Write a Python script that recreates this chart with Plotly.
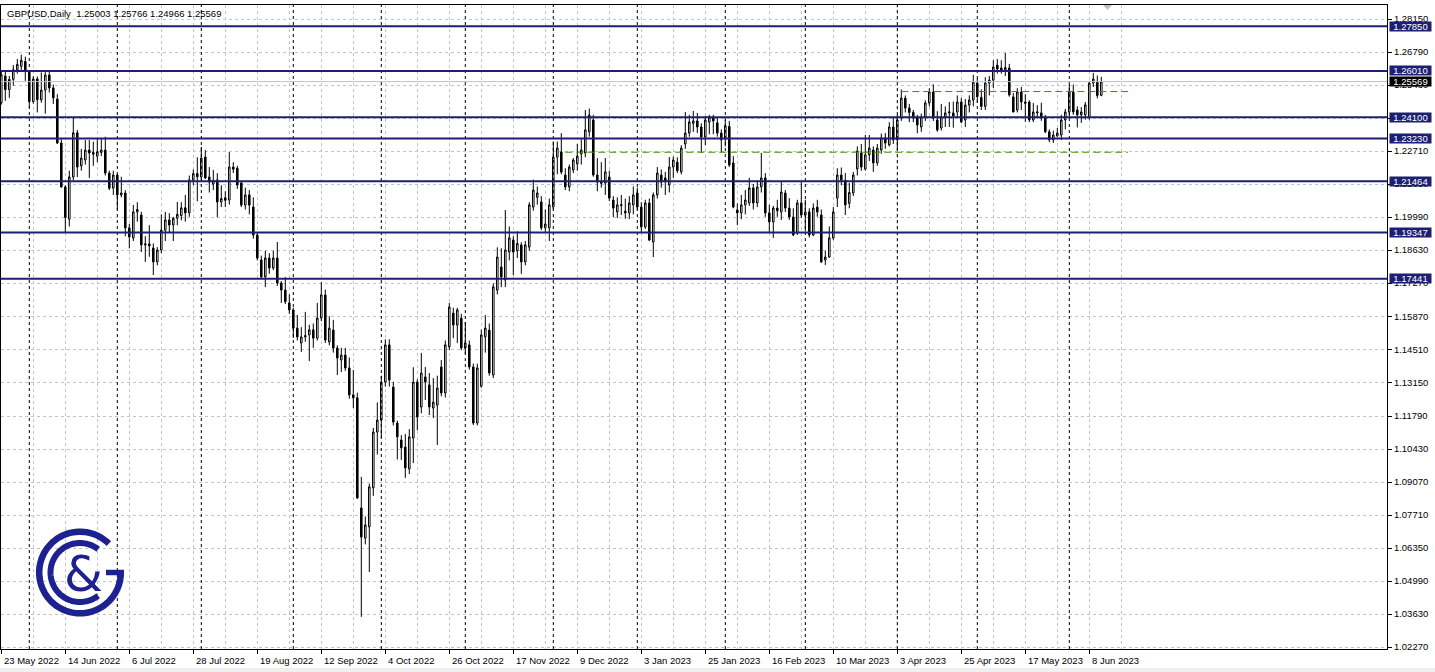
import math
import pandas as pd
import plotly.graph_objects as go

# ---------------- data ----------------
symbol_title = "GBPUSD,Daily"

open_ = [
1.2470,1.2580,1.2524,1.2566,1.2606,1.2620,1.2640,1.2598,1.2475,1.2568,
1.2482,1.2522,1.2584,1.2531,1.2485,1.2304,1.2123,1.1990,1.2164,1.2346,
1.2210,1.2234,1.2275,1.2265,1.2250,1.2265,1.2275,1.2180,1.2118,1.2172,
1.2090,1.2098,1.1954,1.1913,1.2020,1.2007,1.1884,1.1888,1.1871,1.1814,
1.1863,1.1945,1.1987,1.1966,1.1994,1.2005,1.2037,1.2016,1.2152,1.2178,
1.2164,1.2246,1.2164,1.2135,1.2152,1.2061,1.2078,1.2069,1.2205,1.2200,
1.2139,1.2048,1.2090,1.2040,1.1925,1.1822,1.1752,1.1830,1.1789,1.1830,
1.1727,1.1698,1.1645,1.1616,1.1541,1.1480,1.1505,1.1513,1.1534,1.1500,
1.1583,1.1678,1.1484,1.1533,1.1459,1.1410,1.1430,1.1377,1.1266,1.1254,
1.0800,1.0676,1.0722,1.0883,1.1113,1.1162,1.1319,1.1472,1.1298,1.1150,
1.1080,1.1051,1.0961,1.1088,1.1319,1.1216,1.1340,1.1307,1.1212,1.1224,
1.1381,1.1274,1.1464,1.1603,1.1554,1.1582,1.1459,1.1472,1.1381,1.1150,
1.1302,1.1505,1.1533,1.1348,1.1698,1.1793,1.1740,1.1855,1.1904,1.1860,
1.1884,1.1814,1.1875,1.2040,1.2080,1.2061,1.1955,1.1954,1.2040,1.2246,
1.2267,1.2172,1.2123,1.2193,1.2218,1.2259,1.2263,1.2350,1.2399,1.2172,
1.2143,1.2139,1.2164,1.2069,1.2020,1.2046,1.2023,1.2016,1.2049,1.2098,
1.2040,1.1958,1.2057,1.1896,1.2090,1.2172,1.2160,1.2131,1.2205,1.2225,
1.2185,1.2300,1.2345,1.2385,1.2395,1.2370,1.2329,1.2390,1.2410,1.2387,
1.2345,1.2320,1.2372,1.2222,1.2028,1.2016,1.2049,1.2057,1.2119,1.2057,
1.2123,1.2160,1.2016,1.1979,1.2036,1.2020,1.2098,1.2036,1.1999,1.1933,
1.2057,1.2007,1.2020,1.1925,1.2040,1.2007,1.1822,1.1834,1.1913,1.2077,
1.2172,1.2150,1.2055,1.2098,1.2197,1.2263,1.2197,1.2255,1.2275,1.2222,
1.2275,1.2325,1.2296,1.2370,1.2317,1.2407,1.2489,1.2448,1.2430,1.2407,
1.2370,1.2411,1.2469,1.2514,1.2399,1.2366,1.2411,1.2428,1.2428,1.2432,
1.2473,1.2399,1.2460,1.2481,1.2551,1.2492,1.2455,1.2551,1.2563,1.2625,
1.2613,1.2605,1.2613,1.2494,1.2440,1.2514,1.2473,1.2473,1.2399,1.2428,
1.2428,1.2407,1.2350,1.2317,1.2333,1.2337,1.2399,1.2432,1.2514,1.2440,
1.2420,1.2420,1.2411,1.2551,1.2555,1.25003]

high_ = [
1.2599,1.2598,1.2580,1.2625,1.2650,1.2668,1.2660,1.2600,1.2580,1.2578,
1.2595,1.2596,1.2600,1.2545,1.2505,1.2320,1.2130,1.2190,1.2407,1.2358,
1.2280,1.2316,1.2316,1.2310,1.2320,1.2325,1.2330,1.2190,1.2190,1.2175,
1.2165,1.2110,1.1970,1.2049,1.2060,1.2020,1.1920,1.1965,1.1890,1.1875,
1.2010,1.2020,1.2015,1.2000,1.2061,1.2060,1.2090,1.2170,1.2195,1.2245,
1.2288,1.2275,1.2205,1.2193,1.2180,1.2130,1.2105,1.2267,1.2225,1.2210,
1.2145,1.2120,1.2110,1.2080,1.1935,1.1840,1.1860,1.1850,1.1860,1.1896,
1.1735,1.1752,1.1680,1.1625,1.1595,1.1545,1.1608,1.1555,1.1560,1.1645,
1.1731,1.1700,1.1590,1.1575,1.1470,1.1460,1.1460,1.1420,1.1369,1.1275,
1.0928,1.0765,1.0900,1.1130,1.1235,1.1345,1.1495,1.1495,1.1320,1.1160,
1.1100,1.1105,1.1125,1.1380,1.1330,1.1439,1.1381,1.1356,1.1335,1.1345,
1.1410,1.1490,1.1645,1.1625,1.1625,1.1600,1.1566,1.1490,1.1395,1.1395,
1.1535,1.1595,1.1560,1.1725,1.1874,1.1870,1.2028,1.1960,1.1920,1.1940,
1.1895,1.1900,1.2060,1.2153,1.2125,1.2085,1.2030,1.2075,1.2310,1.2310,
1.2345,1.2200,1.2215,1.2242,1.2300,1.2320,1.2440,1.2446,1.2420,1.2242,
1.2225,1.2242,1.2190,1.2085,1.2080,1.2090,1.2075,1.2085,1.2125,1.2120,
1.2060,1.2070,1.2075,1.2100,1.2205,1.2195,1.2185,1.2246,1.2248,1.2245,
1.2295,1.2432,1.2420,1.2436,1.2428,1.2385,1.2415,1.2420,1.2420,1.2410,
1.2360,1.2400,1.2395,1.2250,1.2055,1.2090,1.2110,1.2160,1.2135,1.2150,
1.2263,1.2180,1.2050,1.2045,1.2070,1.2143,1.2110,1.2077,1.2035,1.2070,
1.2143,1.2070,1.2035,1.2055,1.2070,1.2030,1.1860,1.1960,1.2040,1.2200,
1.2203,1.2180,1.2140,1.2185,1.2290,1.2300,1.2337,1.2337,1.2290,1.2300,
1.2343,1.2345,1.2390,1.2410,1.2420,1.2525,1.2500,1.2465,1.2440,1.2420,
1.2425,1.2480,1.2530,1.2546,1.2435,1.2465,1.2455,1.2473,1.2475,1.2500,
1.2490,1.2485,1.2500,1.2585,1.2570,1.2525,1.2575,1.2580,1.2645,1.2650,
1.2645,1.2675,1.2630,1.2510,1.2530,1.2535,1.2505,1.2480,1.2469,1.2460,
1.2470,1.2420,1.2360,1.2355,1.2366,1.2420,1.2445,1.2544,1.2545,1.2455,
1.2452,1.2473,1.2560,1.2593,1.2582,1.25766]

low_ = [
1.2462,1.2478,1.2490,1.2540,1.2590,1.2600,1.2560,1.2450,1.2466,1.2430,
1.2470,1.2425,1.2512,1.2465,1.2300,1.2120,1.1934,1.1960,1.2150,1.2164,
1.2190,1.2215,1.2160,1.2210,1.2225,1.2250,1.2170,1.2110,1.2090,1.2030,
1.2080,1.1920,1.1870,1.1900,1.1980,1.1855,1.1814,1.1835,1.1760,1.1800,
1.1850,1.1900,1.1935,1.1900,1.1965,1.1985,1.1980,1.2000,1.2130,1.2064,
1.2150,1.2155,1.2100,1.2110,1.1998,1.2040,1.2040,1.2050,1.2180,1.2115,
1.2040,1.2030,1.2010,1.1910,1.1820,1.1745,1.1710,1.1765,1.1780,1.1715,
1.1645,1.1640,1.1600,1.1500,1.1490,1.1443,1.1485,1.1405,1.1460,1.1490,
1.1570,1.1480,1.1470,1.1440,1.1348,1.1360,1.1365,1.1250,1.1212,1.0838,
1.0351,1.0650,1.0536,1.0850,1.1020,1.1090,1.1300,1.1300,1.1140,1.1000,
1.0998,1.0924,1.0940,1.0985,1.1120,1.1190,1.1245,1.1183,1.1171,1.1059,
1.1260,1.1255,1.1450,1.1500,1.1480,1.1450,1.1435,1.1370,1.1142,1.1140,
1.1295,1.1440,1.1345,1.1335,1.1680,1.1710,1.1710,1.1820,1.1760,1.1830,
1.1765,1.1800,1.1860,1.2025,1.2050,1.1945,1.1935,1.1900,1.2030,1.2175,
1.2175,1.2110,1.2105,1.2180,1.2190,1.2215,1.2245,1.2330,1.2165,1.2105,
1.2120,1.2090,1.2065,1.1999,1.1995,1.2007,1.1992,1.1990,1.2010,1.2030,
1.1935,1.1950,1.1900,1.1834,1.2075,1.2120,1.2090,1.2100,1.2160,1.2180,
1.2175,1.2280,1.2330,1.2350,1.2345,1.2263,1.2295,1.2340,1.2340,1.2330,
1.2265,1.2290,1.2205,1.2035,1.1965,1.1990,1.2010,1.2045,1.2030,1.2040,
1.2100,1.2000,1.1937,1.1913,1.2000,1.1987,1.2020,1.1987,1.1920,1.1925,
1.1995,1.1940,1.1915,1.1920,1.2000,1.1810,1.1801,1.1830,1.1905,1.2040,
1.2130,1.2007,1.2035,1.2085,1.2170,1.2190,1.2190,1.2230,1.2185,1.2210,
1.2260,1.2280,1.2290,1.2300,1.2275,1.2395,1.2430,1.2390,1.2390,1.2344,
1.2350,1.2395,1.2455,1.2395,1.2350,1.2355,1.2370,1.2370,1.2367,1.2410,
1.2385,1.2370,1.2430,1.2455,1.2470,1.2440,1.2440,1.2500,1.2530,1.2590,
1.2590,1.2580,1.2495,1.2430,1.2430,1.2440,1.2391,1.2390,1.2390,1.2405,
1.2395,1.2345,1.2308,1.2304,1.2330,1.2317,1.2360,1.2405,1.2420,1.2368,
1.2387,1.2400,1.2400,1.2535,1.2488,1.24966]

close_ = [
1.2585,1.2524,1.2566,1.2606,1.2628,1.2645,1.2598,1.2475,1.2568,1.2482,
1.2522,1.2584,1.2531,1.2490,1.2304,1.2123,1.1997,1.2164,1.2346,1.2205,
1.2242,1.2275,1.2263,1.2258,1.2268,1.2275,1.2180,1.2118,1.2172,1.2090,
1.2098,1.1954,1.1917,1.2020,1.2030,1.1884,1.1888,1.1880,1.1814,1.1863,
1.1945,1.1987,1.1966,1.1994,1.2010,1.2037,1.2016,1.2152,1.2178,1.2165,
1.2242,1.2160,1.2143,1.2150,1.2061,1.2075,1.2068,1.2205,1.2196,1.2131,
1.2048,1.2090,1.2048,1.1925,1.1830,1.1752,1.1830,1.1789,1.1830,1.1727,
1.1698,1.1650,1.1616,1.1541,1.1505,1.1505,1.1510,1.1534,1.1500,1.1583,
1.1678,1.1492,1.1541,1.1459,1.1418,1.1430,1.1377,1.1266,1.1254,1.0841,
1.0680,1.0730,1.0887,1.1113,1.1162,1.1319,1.1472,1.1327,1.1154,1.1093,
1.1048,1.0965,1.1093,1.1319,1.1175,1.1356,1.1319,1.1216,1.1236,1.1294,
1.1274,1.1472,1.1628,1.1554,1.1616,1.1459,1.1480,1.1381,1.1150,1.1377,
1.1513,1.1541,1.1356,1.1711,1.1834,1.1752,1.1863,1.1913,1.1855,1.1890,
1.1814,1.1884,1.2049,1.2110,1.2098,1.1954,1.1970,1.2049,1.2246,1.2283,
1.2184,1.2123,1.2205,1.2234,1.2250,1.2275,1.2358,1.2419,1.2172,1.2143,
1.2138,1.2185,1.2077,1.2036,1.2049,1.2050,1.2016,1.2057,1.2090,1.2040,
1.1958,1.2057,1.1904,1.2090,1.2180,1.2143,1.2145,1.2205,1.2234,1.2190,
1.2283,1.2345,1.2391,1.2395,1.2370,1.2329,1.2399,1.2410,1.2395,1.2345,
1.2317,1.2375,1.2213,1.2040,1.2016,1.2049,1.2069,1.2119,1.2057,1.2123,
1.2160,1.2016,1.1979,1.2036,1.2025,1.2102,1.2036,1.1999,1.1925,1.2057,
1.2007,1.2020,1.1925,1.2036,1.2020,1.1814,1.1834,1.1913,1.2020,1.2172,
1.2150,1.2049,1.2100,1.2172,1.2271,1.2205,1.2255,1.2283,1.2222,1.2283,
1.2325,1.2304,1.2370,1.2317,1.2399,1.2489,1.2448,1.2430,1.2407,1.2378,
1.2411,1.2469,1.2514,1.2407,1.2358,1.2411,1.2428,1.2432,1.2415,1.2473,
1.2391,1.2460,1.2481,1.2555,1.2495,1.2455,1.2551,1.2563,1.2617,1.2609,
1.2605,1.2615,1.2502,1.2432,1.2514,1.2473,1.2468,1.2399,1.2432,1.2432,
1.2407,1.2350,1.2317,1.2337,1.2345,1.2399,1.2432,1.2514,1.2432,1.2420,
1.2432,1.2461,1.2551,1.2568,1.2500,1.25569]

# trading calendar (broker had no bar on 26 Dec 2022)
dates = [d for d in pd.bdate_range("2022-05-23", "2023-06-13") if d != pd.Timestamp("2022-12-26")]

# x-axis labels
x_label_text = ["23 May 2022", "14 Jun 2022", "6 Jul 2022", "28 Jul 2022", "19 Aug 2022",
                "12 Sep 2022", "4 Oct 2022", "26 Oct 2022", "17 Nov 2022", "9 Dec 2022",
                "3 Jan 2023", "25 Jan 2023", "16 Feb 2023", "10 Mar 2023", "3 Apr 2023",
                "25 Apr 2023", "17 May 2023", "8 Jun 2023"]

# y-axis labels
y_tick_vals = [1.28150, 1.26790, 1.25430, 1.24070, 1.22710, 1.21350, 1.19990, 1.18630, 1.17270,
               1.15870, 1.14510, 1.13150, 1.11790, 1.10430, 1.09070, 1.07710, 1.06350,
               1.04990, 1.03630, 1.02270]

# horizontal levels drawn on the chart
level_prices = [1.27850, 1.26010, 1.24100, 1.23230, 1.21464, 1.19347, 1.17441]
bid_price = 1.25569

# green dashed trend levels: (start date, price)
green_levels = [("2022-12-06", 1.2266), ("2023-04-04", 1.2516)]

# ---------------- figure ----------------
W, H = 1435, 672
ML, MR, MT, MB = 1, 48, 5, 23
PW, PH = W - ML - MR, H - MT - MB
NAVY = "#1c1f73"
LOGO = "#1e2190"
GRID = "#c4c4c4"
FONT = "Liberation Sans"

n = len(close_)
xs = list(range(n))
date_pos = {d.strftime("%Y-%m-%d"): i for i, d in enumerate(dates)}
label_pos = [date_pos[pd.Timestamp(t).strftime("%Y-%m-%d")] for t in x_label_text]
px_per_bar = 4.0
x0 = -0.075
x1 = x0 + PW / px_per_bar
y_lo, y_hi = 1.02188, 1.28727
green_end = x0 + (1128 - ML) / px_per_bar

fig = go.Figure(go.Candlestick(
    x=xs, open=open_, high=high_, low=low_, close=close_,
    increasing=dict(line=dict(color="black", width=1), fillcolor="white"),
    decreasing=dict(line=dict(color="black", width=1), fillcolor="black"),
    whiskerwidth=0, hoverinfo="skip", showlegend=False))

shapes = []
# month separators
for i in range(1, n):
    if dates[i].month != dates[i - 1].month:
        shapes.append(dict(type="line", xref="x", yref="paper", x0=i, x1=i, y0=0, y1=1,
                           line=dict(color="black", width=1, dash="3px,3px"), layer="above"))
# bid line
shapes.append(dict(type="line", xref="paper", yref="y", x0=0, x1=1, y0=bid_price, y1=bid_price,
                   line=dict(color="#c0c0c0", width=1), layer="above"))
# levels
for p in level_prices:
    shapes.append(dict(type="line", xref="paper", yref="y", x0=0, x1=1, y0=p, y1=p,
                       line=dict(color=NAVY, width=2), layer="above"))
# green dashed
for d, p in green_levels:
    shapes.append(dict(type="line", xref="x", yref="y", x0=date_pos[d], x1=green_end, y0=p, y1=p,
                       line=dict(color="#3c8c00", width=1, dash="7px,4px"), layer="above"))


def to_paper(px, py):
    return (px - ML) / PW, (MT + PH - py) / PH


def arc(cx, cy, r, a0, a1, steps=80):
    pts = []
    for k in range(steps + 1):
        a = math.radians(a0 + (a1 - a0) * k / steps)
        pts.append(to_paper(cx + r * math.cos(a), cy - r * math.sin(a)))
    return "M " + " L ".join(f"{x:.5f},{y:.5f}" for x, y in pts)


cx, cy = 80, 572.5
shapes.append(dict(type="path", xref="paper", yref="paper", path=arc(cx, cy, 40.8, 45, 360),
                   line=dict(color=LOGO, width=6.5), layer="above"))
shapes.append(dict(type="path", xref="paper", yref="paper", path=arc(cx, cy, 29.5, 52, 308),
                   line=dict(color=LOGO, width=6), layer="above"))
bx0, by0 = to_paper(cx + 26, cy)
bx1, by1 = to_paper(cx + 44, cy)
shapes.append(dict(type="line", xref="paper", yref="paper", x0=bx0, x1=bx1, y0=by0, y1=by1,
                   line=dict(color=LOGO, width=5.5), layer="above"))
# chart-shift marker
t1 = to_paper(1103, 5); t2 = to_paper(1112, 5); t3 = to_paper(1107.5, 10)
shapes.append(dict(type="path", xref="paper", yref="paper",
                   path=f"M {t1[0]},{t1[1]} L {t2[0]},{t2[1]} L {t3[0]},{t3[1]} Z",
                   fillcolor="#c0c0c0", line=dict(width=0), layer="above"))
# bottom gray strip
s0 = to_paper(0, 668); s1 = to_paper(W, H)
shapes.append(dict(type="rect", xref="paper", yref="paper", x0=-0.01, x1=1.05, y0=s1[1], y1=s0[1],
                   fillcolor="#f0f0f0", line=dict(width=0), layer="above"))

ann = []
for t, pos in zip(x_label_text, label_pos):
    ann.append(dict(x=pos, xref="x", y=0, yref="paper", text=t, showarrow=False,
                    xanchor="left", yanchor="middle", xshift=1, yshift=-11,
                    font=dict(family=FONT, size=9.5, color="black")))
for p in level_prices:
    ann.append(dict(x=1, xref="paper", y=p, yref="y", text=f"{p:.5f}", showarrow=False,
                    xanchor="left", yanchor="middle", xshift=2, bgcolor=NAVY, borderpad=0,
                    width=41, height=9, font=dict(family=FONT, size=9.5, color="white")))
ann.append(dict(x=1, xref="paper", y=bid_price, yref="y", text=f"{bid_price:.5f}", showarrow=False,
                xanchor="left", yanchor="middle", xshift=2, bgcolor="black", borderpad=0,
                width=41, height=9, font=dict(family=FONT, size=9.5, color="white")))
header = f"{symbol_title}\u00a0\u00a0{open_[-1]:.5f} {high_[-1]:.5f} {low_[-1]:.5f} {close_[-1]:.5f}"
ann.append(dict(x=0, xref="paper", y=1, yref="paper", text=header, showarrow=False,
                xanchor="left", yanchor="middle", xshift=4, yshift=-8,
                font=dict(family=FONT, size=9.5, color="black")))
lx, ly = to_paper(cx + 3, cy + 1)
ann.append(dict(x=lx, xref="paper", y=ly, yref="paper", text="&", showarrow=False,
                xanchor="center", yanchor="middle",
                font=dict(family="DejaVu Sans", size=50, color=LOGO)))

fig.update_layout(
    width=W, height=H, margin=dict(l=ML, r=MR, t=MT, b=MB, pad=0),
    paper_bgcolor="white", plot_bgcolor="white", showlegend=False,
    boxgap=0.45,
    shapes=shapes, annotations=ann,
    xaxis=dict(range=[x0, x1], tickmode="array", tickvals=label_pos, ticks="outside",
               ticklen=4, tickcolor="black", showticklabels=False,
               showgrid=True, gridcolor=GRID, griddash="3px,3px", gridwidth=1,
               minor=dict(tickvals=[p + 8 for p in label_pos], showgrid=True, gridcolor=GRID,
                          griddash="3px,3px", gridwidth=1, ticks=""),
               showline=True, linecolor="black", linewidth=1, mirror=True,
               zeroline=False, rangeslider=dict(visible=False), fixedrange=True),
    yaxis=dict(range=[y_lo, y_hi], side="right", tickmode="array", tickvals=y_tick_vals,
               ticktext=[f"{v:.5f}" for v in y_tick_vals], ticks="outside", ticklen=4,
               tickcolor="black", tickfont=dict(family=FONT, size=9.5, color="black"),
               showgrid=True, gridcolor=GRID, griddash="3px,3px", gridwidth=1,
               showline=True, linecolor="black", linewidth=1, mirror=True,
               zeroline=False, fixedrange=True),
)

fig.write_html("out.html", config={"displayModeBar": False},
               post_script="document.body.style.margin='0px';")
